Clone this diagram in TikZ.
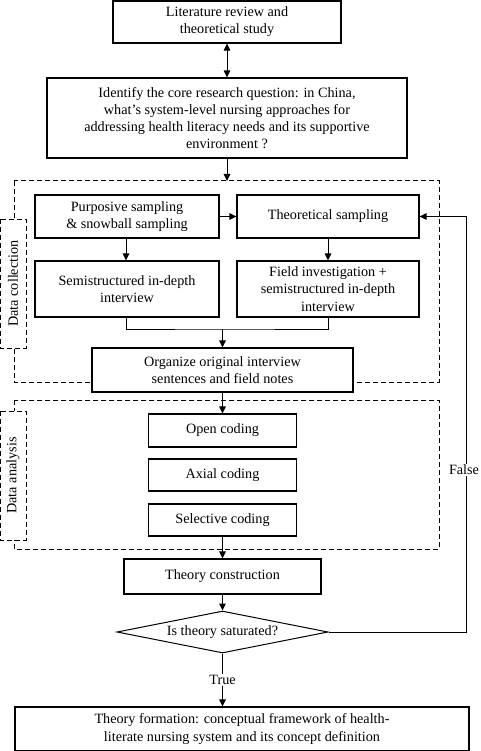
\documentclass[tikz,border=0pt]{standalone}
\usepackage{fontspec}
\setmainfont{Liberation Serif}
\usetikzlibrary{arrows.meta,shapes.geometric}
\begin{document}
\begin{tikzpicture}[x=1pt,y=-1pt,
 txt/.style={font=\fontsize{14.2}{17.2}\selectfont},
 box/.style={draw, line width=1.1pt, fill=white, align=center, inner sep=2pt, txt},
 arr/.style={line width=1pt, -{Triangle[length=7pt,width=6.5pt]}},
 lnk/.style={line width=1pt},
 dbox/.style={draw, line width=1pt, dash pattern=on 5pt off 3pt},
 lbl/.style={dbox, fill=white, rotate=90, minimum width=129pt, minimum height=26pt, inner sep=0pt, txt},
]
\useasboundingbox (0,0) rectangle (480,751);
% dashed groups
\draw[dbox] (14,181) rectangle (439,382);
\draw[dbox] (14,400) rectangle (439,549);
\node[lbl] (dcl) at (13,283.5) {Data collection};
\node[lbl] (dal) at (13,475.5) {Data analysis};
% nodes
\node[box, minimum width=228pt, minimum height=42pt] (lit) at (227,22) {Literature review and\\theoretical study};
\node[box, minimum width=360pt, minimum height=80pt] (rq) at (227,118) {Identify the core research question: in China,\\what's system-level nursing approaches for\\addressing health literacy needs and its supportive\\environment ?};
\node[box, minimum width=184pt, minimum height=43pt] (ps) at (127,216.5) {Purposive sampling\\\& snowball sampling};
\node[box, minimum width=182pt, minimum height=43pt] (ts) at (328,216.5) {Theoretical sampling};
\node[box, minimum width=184pt, minimum height=56pt] (si) at (127,289) {Semistructured in-depth\\interview};
\node[box, minimum width=182pt, minimum height=56pt] (fi) at (328,289) {Field investigation +\\semistructured in-depth\\interview};
\node[box, minimum width=261pt, minimum height=44pt] (org) at (222.5,370) {Organize original interview\\sentences and field notes};
\node[box, minimum width=148pt, minimum height=33pt] (open) at (222.5,430.5) {Open coding};
\node[box, minimum width=148pt, minimum height=32pt] (axial) at (222.5,475) {Axial coding};
\node[box, minimum width=148pt, minimum height=32pt] (sel) at (222.5,520) {Selective coding};
\node[box, minimum width=197pt, minimum height=35pt] (tc) at (222.5,576.5) {Theory construction};
\node[diamond, draw, line width=1pt, fill=white, aspect=5, inner sep=0pt, minimum width=211pt, minimum height=42pt, txt] (dia) at (222.5,632) {Is theory saturated?};
\node[box, minimum width=454pt, minimum height=44pt] (fin) at (242,729) {Theory formation: conceptual framework of health-\\literate nursing system and its concept definition};
% connectors
\draw[lnk, {Triangle[length=7pt,width=6.5pt]}-{Triangle[length=7pt,width=6.5pt]}] (lit) -- (rq);
\coordinate (dctop) at (227,181);
\draw[arr] (rq) -- (dctop);
\draw[arr] (ps) -- (ts);
\draw[arr] (ps.south -| 126,0) -- (si.north -| 126,0);
\draw[arr] (ts) -- (fi);
\coordinate (mrg) at (222.5,329);
\draw[lnk] (si.south -| 126,0) |- (mrg) -| (fi.south);
\draw[arr] (mrg) -- (org);
\draw[arr] (org) -- (open);
\draw[arr] (sel) -- (tc);
\draw[arr] (tc) -- (dia);
\coordinate (fc) at (466,216.5);
\draw[arr] (dia.east) -| (fc) -- (ts.east);
\node[fill=white, inner sep=1pt, txt] (false) at (464,470) {False};
\draw[arr] (dia.south) -- (fin.north -| dia.south);
\node[fill=white, inner sep=1pt, txt] (true) at (222.5,680) {True};
\end{tikzpicture}
\end{document}
